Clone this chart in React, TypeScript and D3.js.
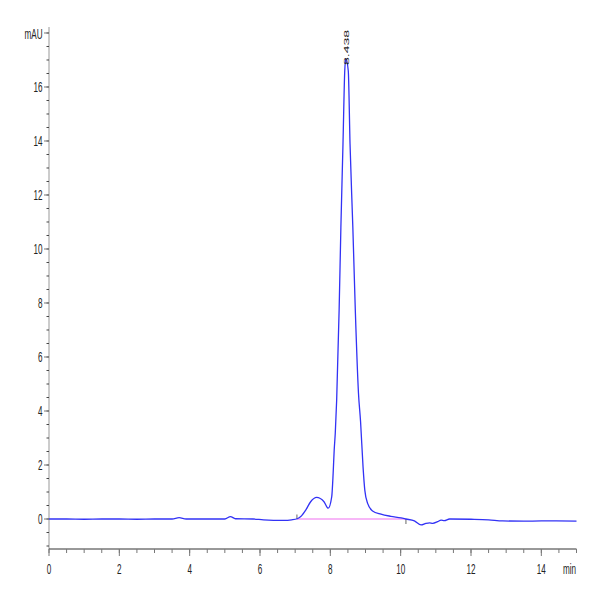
import * as React from 'react';
import * as d3 from 'd3';

// retention time (min) and absorbance (mAU)
const times = [
  0, 0.5, 1.0, 1.5, 2.0, 2.5, 3.0, 3.5, 3.7, 3.9, 4.5, 5.0, 5.16, 5.3, 5.8, 6.1, 6.67, 6.9,
  7.06, 7.16, 7.3, 7.44, 7.61, 7.82, 7.94, 8.04, 8.08, 8.11, 8.14, 8.18, 8.25, 8.3, 8.36, 8.41,
  8.44, 8.51, 8.56, 8.64, 8.71, 8.8, 8.86, 8.93, 8.98, 9.06, 9.2, 9.44, 9.72, 10.01, 10.15,
  10.39, 10.58, 10.72, 10.82, 10.91, 11.05, 11.15, 11.24, 11.39, 12.0, 12.5, 12.9, 13.5, 14.0, 15.0,
];
const mAU = [
  0, 0, -0.01, 0, 0, -0.01, 0, 0, 0.05, 0, 0, 0, 0.09, 0.01, 0, -0.03, -0.05, -0.03,
  0.01, 0.09, 0.33, 0.64, 0.8, 0.64, 0.4, 0.83, 1.69, 2.56, 3.17, 4.4, 7.74, 10.8, 13.9, 16.6,
  17.05, 16.6, 13.9, 10.8, 7.74, 4.67, 3.6, 1.93, 1.07, 0.58, 0.3, 0.18, 0.1, 0.04, 0,
  -0.07, -0.22, -0.16, -0.14, -0.16, -0.1, -0.04, -0.06, 0, -0.01, -0.03, -0.07, -0.08, -0.07, -0.08,
];

const peakTime = 8.438;
const peakLabel = '8.438';
const baselineStart = 7.05;
const baselineEnd = 10.15;

const xMajor = [0, 2, 4, 6, 8, 10, 12, 14];
const yMajor = [0, 2, 4, 6, 8, 10, 12, 14, 16];

const FONT = '"Liberation Sans", Arial, sans-serif';
const SQUEEZE = 0.58; // labels in the picture are narrow and tall

export default function App() {
  const width = 600;
  const height = 600;

  const x = d3.scaleLinear().domain([0, 15]).range([49, 576.5]);
  const y = d3.scaleLinear().domain([-1.111, 18.222]).range([549, 27]);

  const pts = times.map((t, i) => [t, mAU[i]] as [number, number]);
  const line = d3
    .line<[number, number]>()
    .x((d) => x(d[0]))
    .y((d) => y(d[1]))
    .curve(d3.curveMonotoneX);

  const xMinor = d3.range(0, 15.01, 0.5);
  const yMinor = d3.range(-1, 18.01, 0.5);
  const y0 = y(0);
  const x0 = x(0);
  const axisY = y.range()[0];

  return (
    <svg
      width={width}
      height={height}
      style={{ position: 'absolute', left: 0, top: 0, background: '#fff' }}
      fontFamily={FONT}
    >
      {/* y axis */}
      <line x1={x0} x2={x0} y1={y.range()[1]} y2={axisY} stroke="#999" strokeWidth={1} />
      {yMinor.map((v) => (
        <line key={'ym' + v} x1={x0 - 2.5} x2={x0} y1={y(v)} y2={y(v)} stroke="#444" strokeWidth={1} />
      ))}
      {yMajor.concat([18]).map((v) => (
        <line key={'yM' + v} x1={x0 - 5} x2={x0} y1={y(v)} y2={y(v)} stroke="#777" strokeWidth={1} />
      ))}
      {yMajor.map((v) => (
        <text
          key={'yl' + v}
          transform={`translate(42.5,${y(v) + 5}) scale(${SQUEEZE},1)`}
          textAnchor="end"
          fontSize={14}
          fill="#222"
        >
          {v}
        </text>
      ))}
      <text
        transform={`translate(42.5,${y(18) + 6}) scale(${SQUEEZE},1)`}
        textAnchor="end"
        fontSize={14}
        fill="#222"
      >
        mAU
      </text>

      {/* x axis */}
      <line x1={x0} x2={x.range()[1]} y1={axisY} y2={axisY} stroke="#333" strokeWidth={1} />
      {xMinor.map((v) => (
        <line key={'xm' + v} x1={x(v)} x2={x(v)} y1={axisY} y2={axisY + 4} stroke="#777" strokeWidth={1} />
      ))}
      {xMajor.map((v) => (
        <line key={'xM' + v} x1={x(v)} x2={x(v)} y1={axisY} y2={axisY + 7} stroke="#777" strokeWidth={1} />
      ))}
      {xMajor.map((v) => (
        <text
          key={'xl' + v}
          transform={`translate(${x(v)},573.5) scale(${SQUEEZE},1)`}
          textAnchor="middle"
          fontSize={14}
          fill="#222"
        >
          {v}
        </text>
      ))}
      <text
        transform={`translate(576,573.5) scale(${SQUEEZE},1)`}
        textAnchor="end"
        fontSize={14}
        fill="#222"
      >
        min
      </text>

      {/* integration baseline */}
      <line
        x1={x(baselineStart)}
        x2={x(baselineEnd)}
        y1={y0}
        y2={y0}
        stroke="#f070f0"
        strokeWidth={1.2}
      />
      <line x1={x(baselineStart)} x2={x(baselineStart)} y1={y0 - 4.5} y2={y0} stroke="#666" strokeWidth={1} />
      <line x1={x(baselineEnd)} x2={x(baselineEnd)} y1={y0} y2={y0 + 5} stroke="#666" strokeWidth={1} />

      {/* trace */}
      <path d={line(pts) ?? ''} fill="none" stroke="#3232f5" strokeWidth={1.3} strokeLinejoin="round" />

      {/* peak label */}
      <text
        transform={`translate(${x(peakTime) + 3.5},65) scale(${SQUEEZE},1) rotate(-90)`}
        textAnchor="start"
        fontSize={14}
        fill="#222"
      >
        {peakLabel}
      </text>
    </svg>
  );
}
